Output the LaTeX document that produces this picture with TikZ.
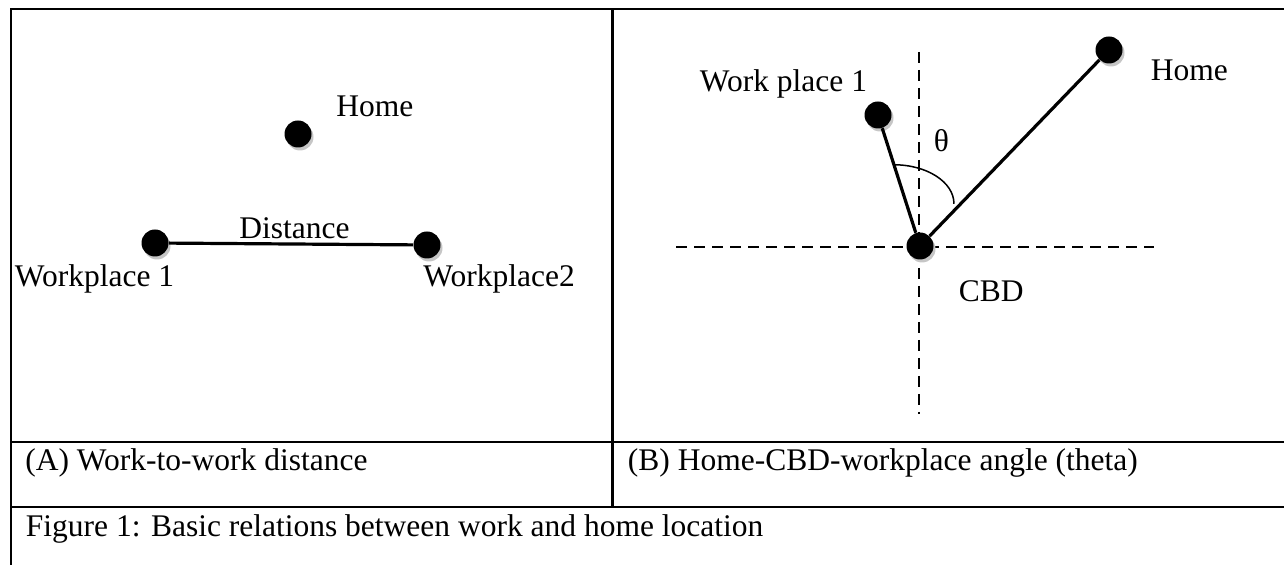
\documentclass[tikz,border=0pt]{standalone}
\usepackage{fontspec}
\setmainfont{Liberation Serif}
\usetikzlibrary{calc, shadows}

\begin{document}
\begin{tikzpicture}[x=0.5pt, y=-0.5pt,
	frame/.style={line width=1.2pt},
	spot/.style={circle, fill=black, inner sep=0pt, minimum size=13.5pt,
		drop shadow={shadow xshift=1pt, shadow yshift=-1.5pt, fill=gray!45, opacity=1}},
	link/.style={line width=1.6pt},
	axis/.style={line width=1pt, dash pattern=on 5.5pt off 3.5pt},
	lbl/.style={inner sep=0pt, anchor=base west, font=\fontsize{15.75}{18}\selectfont}]
	\useasboundingbox (0,0) rectangle (1284,565);
	% table rules
	\draw[frame] (11,565) -- (11,9) -- (1284,9);
	\draw[frame] (11,442) -- (1284,442);
	\draw[frame] (11,507) -- (1284,507);
	\draw[frame] (612.5,9) -- (612.5,507);
	% (A) distance
	\node[spot] (homeA) at (298,134) {};
	\node[spot] (wpA) at (155,243) {};
	\node[spot] (wpB) at (427,245) {};
	\draw[link] (wpA) -- (wpB);
	\node[lbl] at (336,117) {Home};
	\node[lbl] at (239,238.5) {Distance};
	\node[lbl] at (14.5,286.5) {Workplace 1};
	\node[lbl] at (423,286.5) {Workplace2};
	% (B) angle
	\coordinate (west) at (676,247);
	\coordinate (east) at (1154,247);
	\coordinate (north) at (918.5,52);
	\coordinate (south) at (918.5,414);
	\draw[axis] (west) -- (east);
	\draw[axis] (north) -- (south);
	\node[spot] (cbd) at (920,246) {};
	\node[spot] (wpC) at (878,115) {};
	\node[spot] (homeB) at (1109,50) {};
	\draw[link] (cbd) -- (wpC);
	\draw[link] (cbd) -- (homeB);
	\coordinate (tip) at ($(cbd.center)!0.62!(wpC.center)$);
	\draw[line width=0.75pt] (tip) arc[start angle=90, end angle=0, x radius=30pt, y radius=19.5pt];
	\node[lbl] at (699.5,92) {Work place 1};
	\node[lbl] at (1150.5,81) {Home};
	\node[lbl] at (933.5,152) {θ};
	\node[lbl] at (958.5,302) {CBD};
	% captions
	\node[lbl] at (25,471) {(A) Work-to-work distance};
	\node[lbl] at (627.5,471) {(B) Home-CBD-workplace angle (theta)};
	\node[lbl] at (25.5,537) {Figure 1: Basic relations between work and home location};
\end{tikzpicture}
\end{document}
